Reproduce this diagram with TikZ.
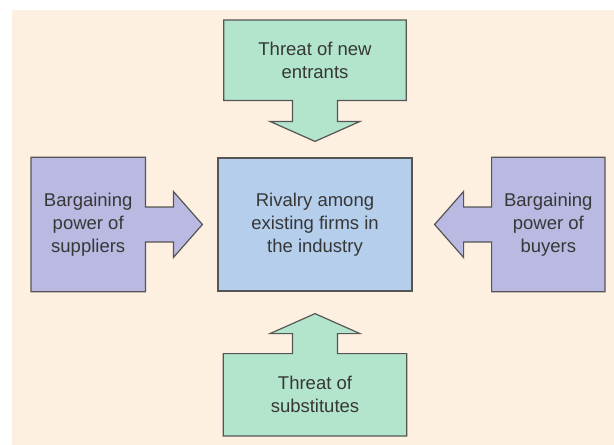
\documentclass[tikz,border=0pt]{standalone}
\usepackage{fontspec}
\setmainfont{Liberation Sans}
\usepackage{tikz}
\usetikzlibrary{positioning, calc, backgrounds}
\usepackage{xcolor}
\definecolor{peachBg}{RGB}{253,240,225}
\definecolor{greenThreat}{RGB}{179,228,204}
\definecolor{purplePower}{RGB}{185,185,225}
\definecolor{blueRival}{RGB}{180,206,236}
\definecolor{edgeGray}{RGB}{85,85,85}
\definecolor{textGray}{RGB}{55,55,55}

\begin{document}
\begin{tikzpicture}[
  x=1pt, y=-1pt,
  force/.style={inner sep=0pt, align=center, text=textGray,
                font=\fontsize{18.5}{23}\selectfont},
  outline/.style={draw=edgeGray, line width=1.2pt, line join=miter}
]
  \useasboundingbox (0,0) rectangle (614,445);

  \node[force, draw=edgeGray, line width=1.2pt, fill=blueRival,
        minimum width=194pt, minimum height=133pt]
    (rival) at (315,224.5) {Rivalry among\\existing firms in\\the industry};
  \node[force, minimum width=182pt, minimum height=80pt, above=57pt of rival]
    (entr) {Threat of new\\entrants};
  \node[force, minimum width=183pt, minimum height=82pt, below=62pt of rival]
    (subst) {Threat of\\substitutes};
  \node[force, minimum width=114pt, minimum height=134pt, left=72pt of rival]
    (suppl) {Bargaining\\power of\\suppliers};
  \node[force, minimum width=113pt, minimum height=134pt, right=79pt of rival]
    (buyer) {Bargaining\\power of\\buyers};

  % arrow tips, free ends near the rivalry box
  \coordinate (tipT) at ($(rival.north)+(0,-16)$);
  \coordinate (tipB) at ($(rival.south)+(0,22)$);
  \coordinate (tipL) at ($(rival.west)+(-15,0)$);
  \coordinate (tipR) at ($(rival.east)+(22,0)$);

  \begin{scope}[on background layer]
    \fill[peachBg] (12,10) rectangle (614,445);

    \draw[outline, fill=greenThreat]
      (entr.north west) -- (entr.north east) -- (entr.south east)
      -- ($(entr.south)+(22.5,0)$) |- ($(tipT)+(45,-20)$) -- (tipT)
      -- ++(-45,-20) -| ($(entr.south)+(-22.5,0)$) -- (entr.south west) -- cycle;

    \draw[outline, fill=greenThreat]
      (subst.south west) -- (subst.south east) -- (subst.north east)
      -- ($(subst.north)+(22.5,0)$) |- ($(tipB)+(45,20)$) -- (tipB)
      -- ++(-45,20) -| ($(subst.north)+(-22.5,0)$) -- (subst.north west) -- cycle;

    \draw[outline, fill=purplePower]
      (suppl.north east) -- (suppl.north west) -- (suppl.south west)
      -- (suppl.south east) -- ($(suppl.east)+(0,17.5)$) -| ($(tipL)+(-29,33)$)
      -- (tipL) -- ++(-29,-33) |- ($(suppl.east)+(0,-17.5)$) -- cycle;

    \draw[outline, fill=purplePower]
      (buyer.north west) -- (buyer.north east) -- (buyer.south east)
      -- (buyer.south west) -- ($(buyer.west)+(0,17.5)$) -| ($(tipR)+(29,33)$)
      -- (tipR) -- ++(29,-33) |- ($(buyer.west)+(0,-17.5)$) -- cycle;
  \end{scope}
\end{tikzpicture}
\end{document}
